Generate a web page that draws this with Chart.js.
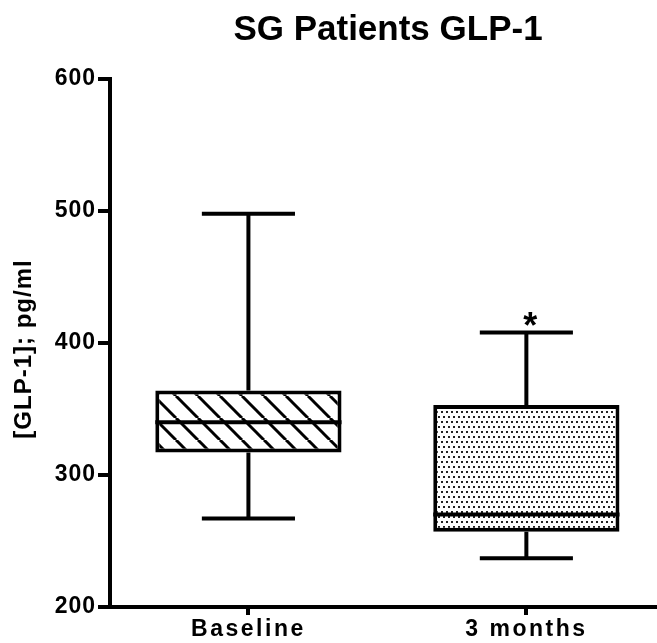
<!DOCTYPE html>
<html>
<head>
<meta charset="utf-8">
<script src="https://cdn.jsdelivr.net/npm/chart.js@4/dist/chart.umd.min.js"></script>
<style>
  html, body { margin: 0; padding: 0; background: #fff; }
  #wrap { width: 657px; height: 643px; position: relative; }
</style>
</head>
<body>
<div id="wrap"><canvas id="c"></canvas></div>
<script>
// ---- data ----
const categories = ['Baseline', '3 months'];
const whiskerLow = [267, 237];
const quartile1 = [317, 257];
const medians = [340, 270];
const quartile3 = [364, 353];
const whiskerHigh = [498, 408];
const yTickValues = [200, 300, 400, 500, 600];
const markers = ['', '*'];
const titleText = 'SG Patients GLP-1';
const yTitleText = '[GLP-1]; pg/ml';

const FONT = "'Liberation Sans', Arial, Helvetica, sans-serif";

function hatchPattern() {
  const s = 22;
  const c = document.createElement('canvas');
  c.width = s; c.height = s;
  const g = c.getContext('2d');
  g.fillStyle = '#fff'; g.fillRect(0, 0, s, s);
  g.strokeStyle = '#000'; g.lineWidth = 3;
  for (const k of [-1, 0, 1]) {
    g.beginPath(); g.moveTo(k * s, 0); g.lineTo(k * s + s, s); g.stroke();
  }
  return g.createPattern(c, 'repeat');
}
function dotPattern() {
  const s = 10;
  const c = document.createElement('canvas');
  c.width = s; c.height = s;
  const g = c.getContext('2d');
  g.fillStyle = '#fff'; g.fillRect(0, 0, s, s);
  g.fillStyle = '#222';
  [[1, 1], [6, 1], [3, 6], [8, 6]].forEach(([x, y]) => g.fillRect(x, y, 2, 2));
  return g.createPattern(c, 'repeat');
}

// letter spacing per axis for tick labels
function spaced(scale, spacing) {
  if (scale._spacedWrapped) return;
  scale._spacedWrapped = true;
  const orig = scale.drawLabels.bind(scale);
  scale.drawLabels = function (area) {
    const c = this.ctx;
    const prev = c.letterSpacing;
    c.letterSpacing = spacing;
    orig(area);
    c.letterSpacing = prev || '0px';
  };
}

const boxPlugin = {
  id: 'boxplot',
  beforeDatasetsDraw(chart) {
    const ctx = chart.ctx;
    const xs = chart.scales.x, ys = chart.scales.y;
    const meta = chart.getDatasetMeta(0);
    ctx.save();
    ctx.strokeStyle = '#000';
    ctx.lineWidth = 4;
    ctx.lineCap = 'butt';
    categories.forEach((c, i) => {
      const x = xs.getPixelForValue(i + 1);
      const half = meta.data[i].width / 4;
      const yHi = ys.getPixelForValue(whiskerHigh[i]);
      const yQ3 = ys.getPixelForValue(quartile3[i]);
      const yQ1 = ys.getPixelForValue(quartile1[i]);
      const yLo = ys.getPixelForValue(whiskerLow[i]);
      ctx.beginPath();
      ctx.moveTo(x, yHi); ctx.lineTo(x, yQ3);
      ctx.moveTo(x, yQ1); ctx.lineTo(x, yLo);
      ctx.moveTo(x - half, yHi); ctx.lineTo(x + half, yHi);
      ctx.moveTo(x - half, yLo); ctx.lineTo(x + half, yLo);
      ctx.stroke();
    });
    ctx.restore();
  },
  afterDatasetsDraw(chart) {
    const ctx = chart.ctx;
    const xs = chart.scales.x, ys = chart.scales.y;
    const meta = chart.getDatasetMeta(0);
    ctx.save();
    ctx.letterSpacing = '0px';
    ctx.strokeStyle = '#000';
    ctx.lineWidth = 4;
    categories.forEach((c, i) => {
      const x = xs.getPixelForValue(i + 1);
      const w = meta.data[i].width / 2;
      const ym = ys.getPixelForValue(medians[i]);
      ctx.beginPath(); ctx.moveTo(x - w, ym); ctx.lineTo(x + w, ym); ctx.stroke();
      if (markers[i]) {
        ctx.fillStyle = '#000';
        ctx.font = 'bold 36px ' + FONT;
        ctx.textAlign = 'center';
        ctx.textBaseline = 'alphabetic';
        ctx.fillText(markers[i], x + 4, ys.getPixelForValue(whiskerHigh[i]) + 6);
      }
    });
    ctx.restore();
  },
  afterDraw(chart) {
    const ctx = chart.ctx;
    ctx.save();
    ctx.letterSpacing = '0px';
    ctx.fillStyle = '#000';
    ctx.font = 'bold 35px ' + FONT;
    ctx.textAlign = 'center';
    ctx.textBaseline = 'alphabetic';
    ctx.fillText(titleText, 388, 40);
    ctx.letterSpacing = '1px';
    ctx.font = 'bold 24px ' + FONT;
    ctx.translate(24, 349);
    ctx.rotate(-Math.PI / 2);
    ctx.textBaseline = 'middle';
    ctx.fillText(yTitleText, 0, 0);
    ctx.restore();
  }
};

const ctx = document.getElementById('c').getContext('2d');
new Chart(ctx, {
  type: 'bar',
  data: {
    datasets: [{
      data: categories.map((c, i) => ({ x: i + 1, y: [quartile1[i], quartile3[i]] })),
      backgroundColor: [hatchPattern(), dotPattern()],
      borderColor: '#000',
      borderWidth: 4,
      borderSkipped: false,
      barPercentage: 0.67,
      categoryPercentage: 1.0
    }]
  },
  options: {
    responsive: true,
    maintainAspectRatio: false,
    animation: false,
    devicePixelRatio: 1,
    layout: { padding: { top: 79, left: 0, right: 0, bottom: 0 } },
    plugins: { legend: { display: false }, title: { display: false }, tooltip: { enabled: false } },
    scales: {
      x: {
        type: 'linear',
        offset: false,
        min: 0.502,
        max: 2.470,
        afterBuildTicks: s => { s.ticks = categories.map((c, i) => ({ value: i + 1 })); },
        afterFit: s => { s.height = 36; spaced(s, '2.5px'); },
        ticks: {
          callback: v => categories[Math.round(v) - 1] || '',
          color: '#000',
          font: { family: FONT, size: 23, weight: 'bold' },
          padding: 1,
          maxRotation: 0,
          autoSkip: false
        },
        grid: { display: true, offset: false, drawOnChartArea: false, drawTicks: true, tickLength: 8, color: '#000', lineWidth: 4 },
        border: { display: true, color: '#000', width: 4 }
      },
      y: {
        min: 200,
        max: 600,
        afterBuildTicks: s => { s.ticks = yTickValues.map(v => ({ value: v })); },
        afterFit: s => { s.width = 110; spaced(s, '1px'); },
        ticks: {
          color: '#000',
          font: { family: FONT, size: 23, weight: 'bold' },
          padding: 2
        },
        grid: { display: true, drawOnChartArea: false, drawTicks: true, tickLength: 12, color: '#000', lineWidth: 4 },
        border: { display: true, color: '#000', width: 4 }
      }
    }
  },
  plugins: [boxPlugin]
});
</script>
</body>
</html>
